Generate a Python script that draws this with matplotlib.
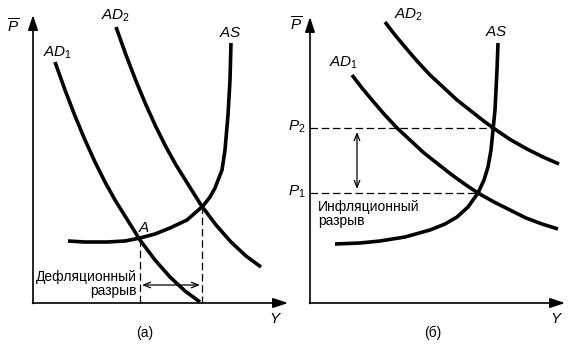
import matplotlib
matplotlib.use("Agg")
import matplotlib.pyplot as plt

plt.rcParams["font.family"] = ["Liberation Sans", "DejaVu Sans"]
plt.rcParams["mathtext.fontset"] = "custom"
plt.rcParams["mathtext.it"] = "Liberation Sans:italic"
plt.rcParams["mathtext.rm"] = "Liberation Sans"

# curves (pixel coords, y down)
# panel (a)
ad1_a_x = [55, 65, 75, 85, 95, 105, 115, 125, 140, 155, 170, 185, 200]
ad1_a_y = [62, 90, 116, 140, 162, 182, 200, 216, 240, 260, 277, 291, 302]
ad2_a_x = [116, 126, 136, 146, 156, 166, 176, 186, 201, 216, 231, 246, 261]
ad2_a_y = [27, 55, 81, 105, 127, 147, 165, 181, 205, 225, 242, 256, 267]
as_a_x = [68, 85, 107, 125, 140, 155, 170, 187, 203, 210, 215, 222, 225, 228, 230, 231]
as_a_y = [241, 242, 242, 241, 238, 234, 228, 220, 206, 197, 188, 170, 150, 115, 80, 43]
y_old, y_new = 140, 202   # output at A and at the new equilibrium
p_old, p_new = 239, 206

# panel (б)
ad1_b_x = [352, 362, 372, 384, 397, 410, 424, 438, 452, 466, 478, 494, 510, 526, 542, 558]
ad1_b_y = [75, 88, 100, 114, 128, 140, 153, 164, 175, 185, 193, 202, 210, 218, 224, 229]
ad2_b_x = [385, 395, 405, 417, 430, 443, 457, 471, 485, 499, 511, 527, 543, 559]
ad2_b_y = [22, 35, 47, 61, 75, 87, 100, 111, 122, 132, 140, 149, 157, 164]
as_b_x = [335, 360, 380, 405, 430, 445, 457, 468, 478, 484, 488, 491, 493, 495, 496, 497, 498]
as_b_y = [244, 243, 241, 237, 230, 224, 217, 207, 193, 180, 167, 150, 130, 110, 90, 70, 43]
p1, p2 = 193, 128
y1, y2 = 478, 493

fig = plt.figure(figsize=(5.76, 3.5), dpi=100)
ax = fig.add_axes([0, 0, 1, 1])
ax.set_xlim(0, 576)
ax.set_ylim(350, 0)
ax.axis("off")

curve = dict(color="black", lw=2.6, solid_capstyle="butt", solid_joinstyle="round")
dash = dict(color="black", lw=0.9, dashes=(6, 3))
axis_arrow = dict(arrowstyle="-|>,head_length=0.9,head_width=0.3", color="black", lw=1.2,
                  shrinkA=0, shrinkB=0)
gap_arrow = dict(arrowstyle="<->,head_length=0.5,head_width=0.2", color="black", lw=0.9,
                 shrinkA=0, shrinkB=0)
lab = dict(fontsize=11, color="black")
note = dict(fontsize=10, color="black")

# ---- panel (a) ----
ax.annotate("", xy=(33, 15), xytext=(33, 303.5), arrowprops=axis_arrow)
ax.annotate("", xy=(288, 303), xytext=(32.5, 303), arrowprops=axis_arrow)
ax.plot(ad1_a_x, ad1_a_y, **curve)
ax.plot(ad2_a_x, ad2_a_y, **curve)
ax.plot(as_a_x, as_a_y, **curve)
ax.plot([y_old, y_old], [p_old, 303], **dash)
ax.plot([y_new, y_new], [p_new, 303], **dash)
ax.annotate("", xy=(y_old + 2, 285), xytext=(y_new - 2, 285), arrowprops=gap_arrow)
ax.text(13, 27, r"$\overline{P}$", ha="center", va="center", **lab)
ax.text(276, 319, r"$Y$", ha="center", va="center", **lab)
ax.text(58, 53, r"$AD_\mathrm{1}$", ha="center", va="center", **lab)
ax.text(116, 16, r"$AD_\mathrm{2}$", ha="center", va="center", **lab)
ax.text(230, 33, r"$AS$", ha="center", va="center", **lab)
ax.text(144, 228, r"$A$", ha="center", va="center", **lab)
ax.text(137, 277, "Дефляционный", ha="right", va="center", **note)
ax.text(137, 291, "разрыв", ha="right", va="center", **note)
ax.text(145, 333, "(a)", ha="center", va="center", **note)

# ---- panel (б) ----
ax.annotate("", xy=(310, 17), xytext=(310, 303.5), arrowprops=axis_arrow)
ax.annotate("", xy=(565, 303), xytext=(309.5, 303), arrowprops=axis_arrow)
ax.plot(ad1_b_x, ad1_b_y, **curve)
ax.plot(ad2_b_x, ad2_b_y, **curve)
ax.plot(as_b_x, as_b_y, **curve)
ax.plot([310, y2], [p2, p2], **dash)
ax.plot([310, y1], [p1, p1], **dash)
ax.annotate("", xy=(357, p2 + 4), xytext=(357, p1 - 4), arrowprops=gap_arrow)
ax.text(296, 25, r"$\overline{P}$", ha="center", va="center", **lab)
ax.text(297, 127, r"$P_\mathrm{2}$", ha="center", va="center", **lab)
ax.text(297, 192, r"$P_\mathrm{1}$", ha="center", va="center", **lab)
ax.text(557, 319, r"$Y$", ha="center", va="center", **lab)
ax.text(344, 63, r"$AD_\mathrm{1}$", ha="center", va="center", **lab)
ax.text(409, 15, r"$AD_\mathrm{2}$", ha="center", va="center", **lab)
ax.text(496, 32, r"$AS$", ha="center", va="center", **lab)
ax.text(318, 207, "Инфляционный", ha="left", va="center", **note)
ax.text(318, 221, "разрыв", ha="left", va="center", **note)
ax.text(433, 333, "(б)", ha="center", va="center", **note)

fig.savefig("out.png", dpi=100)
